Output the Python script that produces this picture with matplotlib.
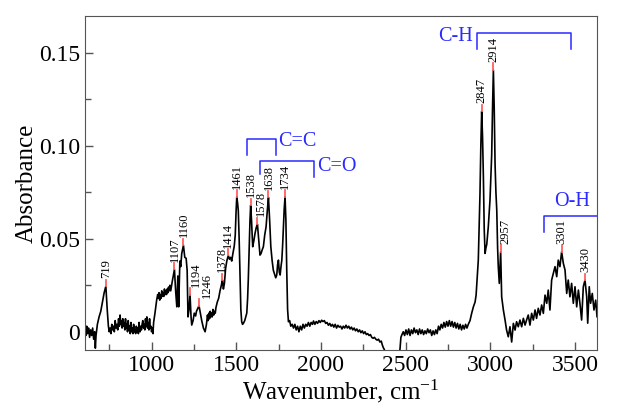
import numpy as np
import matplotlib.pyplot as plt
from matplotlib.ticker import MultipleLocator, FuncFormatter

plt.rcParams['font.family'] = 'Liberation Serif'
plt.rcParams['mathtext.fontset'] = 'custom'
plt.rcParams['mathtext.rm'] = 'Liberation Serif'
plt.rcParams['mathtext.it'] = 'Liberation Serif:italic'

# spectrum (x in axis units, cm-1)
wavenumber = [
    607, 612, 617, 622, 628, 634, 640, 646, 652, 658, 664, 668, 672, 680, 690, 700, 710, 720, 730, 738,
    745, 750, 755, 760, 765, 770, 775, 780, 785, 790, 795, 800, 805, 810, 814, 818, 822, 826, 830, 834,
    838, 842, 846, 850, 854, 858, 862, 866, 870, 874, 878, 882, 886, 890, 894, 898, 902, 906, 910, 914,
    918, 922, 926, 929, 932, 936, 940, 944, 948, 952, 956, 960, 964, 968, 972, 976, 980, 984, 988, 992,
    996, 1000, 1004, 1008, 1012, 1020, 1030, 1036, 1040, 1044, 1048, 1052, 1056, 1060, 1064, 1068, 1072, 1076, 1080, 1084,
    1088, 1092, 1096, 1100, 1104, 1108, 1113, 1122, 1135, 1142, 1149, 1155, 1160, 1167, 1172, 1178, 1188, 1196, 1204, 1210,
    1215, 1221, 1227, 1233, 1237, 1245, 1252, 1260, 1265, 1270, 1280, 1288, 1296, 1306, 1316, 1324, 1330, 1334, 1338, 1342,
    1346, 1350, 1354, 1358, 1362, 1367, 1372, 1376, 1380, 1388, 1396, 1404, 1412, 1418, 1424, 1430, 1437, 1444, 1453, 1460,
    1467, 1473, 1480, 1488, 1494, 1499, 1503, 1508, 1512, 1517, 1522, 1527, 1532, 1537, 1542, 1550, 1556, 1562, 1567, 1571,
    1576, 1581, 1585, 1590, 1597, 1604, 1611, 1618, 1625, 1632, 1640, 1646, 1653, 1660, 1668, 1676, 1684, 1690, 1697, 1704,
    1712, 1719, 1726, 1733, 1739, 1744, 1749, 1754, 1759, 1764, 1769, 1774, 1778, 1783, 1788, 1793, 1798, 1803, 1808, 1815,
    1822, 1830, 1838, 1846, 1854, 1862, 1870, 1878, 1886, 1894, 1902, 1910, 1918, 1926, 1934, 1942, 1950, 1956, 1964, 1972,
    1980, 1988, 1996, 2004, 2012, 2020, 2028, 2036, 2044, 2052, 2060, 2068, 2076, 2084, 2092, 2100, 2108, 2116, 2124, 2132,
    2140, 2148, 2156, 2164, 2172, 2180, 2188, 2196, 2204, 2212, 2220, 2228, 2236, 2244, 2252, 2260, 2268, 2276, 2284, 2292,
    2300, 2308, 2316, 2324, 2332, 2340, 2348, 2356, 2362, 2368, 2374, 2382, 2400, 2440, 2460, 2467, 2472, 2477, 2486, 2494,
    2502, 2510, 2518, 2526, 2534, 2542, 2550, 2558, 2566, 2574, 2582, 2590, 2598, 2606, 2614, 2622, 2630, 2638, 2646, 2654,
    2662, 2670, 2678, 2686, 2694, 2702, 2710, 2718, 2726, 2734, 2742, 2750, 2758, 2766, 2774, 2782, 2790, 2798, 2806, 2814,
    2822, 2830, 2838, 2846, 2854, 2862, 2870, 2880, 2890, 2900, 2910, 2916, 2922, 2929, 2935, 2939, 2944, 2949, 2954, 2959,
    2964, 2969, 2974, 2979, 2988, 2998, 3008, 3013, 3018, 3023, 3028, 3033, 3038, 3043, 3047, 3053, 3057, 3061, 3067, 3077,
    3087, 3096, 3106, 3116, 3126, 3136, 3146, 3155, 3165, 3175, 3185, 3195, 3205, 3214, 3224, 3234, 3244, 3254, 3264, 3273,
    3283, 3293, 3303, 3313, 3323, 3333, 3342, 3352, 3362, 3372, 3382, 3392, 3401, 3411, 3421, 3431, 3441, 3451, 3460, 3470,
    3480, 3490, 3500, 3510, 3520, 3529, 3539, 3549, 3559, 3569, 3575, 3584, 3592, 3602, 3612, 3622, 3630,
]
absorbance = [
    0.001, -0.002, 0.003, -0.001, 0.002, -0.003, 0.001, -0.002, 0.002, -0.004, 0.000, -0.0088, -0.002, 0.004, 0.008, 0.011, 0.016, 0.021, 0.0245, 0.012,
    0.003, 0.000, 0.002, -0.001, 0.004, 0.001, 0.003, 0.000, 0.006, 0.002, 0.004, 0.001, 0.007, 0.003, 0.009, 0.004, 0.006, 0.002, 0.007, 0.003,
    0.005, 0.001, 0.007, 0.002, 0.004, 0.000, 0.006, 0.001, 0.003, -0.001, 0.005, 0.000, 0.002, -0.001, 0.004, 0.000, 0.001, -0.001, 0.003, 0.000,
    0.002, -0.001, 0.005, 0.001, 0.000, 0.003, 0.001, 0.004, 0.006, 0.002, 0.004, 0.001, 0.007, 0.003, 0.008, 0.002, 0.005, 0.001, 0.007, 0.002,
    0.003, 0.000, 0.002, -0.001, 0.005, 0.010, 0.017, 0.020, 0.018, 0.021, 0.017, 0.020, 0.018, 0.022, 0.019, 0.021, 0.019, 0.023, 0.020, 0.022,
    0.020, 0.023, 0.021, 0.024, 0.022, 0.025, 0.022, 0.027, 0.0335, 0.022, 0.0134, 0.030, 0.0134, 0.038, 0.035, 0.042, 0.0465, 0.040, 0.0395, 0.033,
    0.008, 0.012, 0.020, 0.008, 0.0036, 0.006, 0.010, 0.0085, 0.011, 0.012, 0.014, 0.010, 0.006, 0.002, 0.000, 0.004, 0.009, 0.006, 0.010, 0.007,
    0.011, 0.008, 0.010, 0.008, 0.012, 0.009, 0.011, 0.010, 0.013, 0.016, 0.018, 0.022, 0.025, 0.0278, 0.023, 0.026, 0.034, 0.038, 0.041, 0.039,
    0.040, 0.038, 0.042, 0.046, 0.052, 0.065, 0.0726, 0.069, 0.065, 0.050, 0.030, 0.012, 0.0054, 0.004, 0.0045, 0.006, 0.008, 0.010, 0.018, 0.028,
    0.045, 0.060, 0.068, 0.060, 0.0457, 0.049, 0.053, 0.056, 0.0578, 0.050, 0.0412, 0.042, 0.044, 0.0457, 0.052, 0.0564, 0.066, 0.0722, 0.060, 0.0457,
    0.038, 0.033, 0.031, 0.029, 0.0305, 0.036, 0.0385, 0.032, 0.0305, 0.035, 0.0385, 0.047, 0.056, 0.066, 0.0726, 0.060, 0.033, 0.012, 0.0054, 0.006,
    0.003, 0.004, 0.002, 0.004, 0.001, 0.003, 0.000, 0.003, 0.001, 0.004, 0.002, 0.004, 0.003, 0.005, 0.003, 0.005, 0.004, 0.0058, 0.004, 0.0055,
    0.0045, 0.006, 0.005, 0.0062, 0.0055, 0.006, 0.0045, 0.005, 0.0035, 0.0045, 0.003, 0.004, 0.0025, 0.004, 0.002, 0.0035, 0.0025, 0.003, 0.0015, 0.003,
    0.002, 0.0035, 0.002, 0.003, 0.0015, 0.0025, 0.001, 0.002, 0.0005, 0.0015, 0.000, 0.001, -0.0005, 0.0005, -0.001, 0.000, -0.0015, -0.001, -0.002, -0.0015,
    -0.003, -0.0035, -0.003, -0.004, -0.0045, -0.004, -0.0055, -0.005, -0.007, -0.0085, -0.0095, -0.014, -0.030, -0.030, -0.014, -0.009, -0.003, -0.0018, 0.000, -0.002,
    0.001, -0.0015, 0.0015, -0.002, 0.001, -0.001, 0.002, -0.0005, 0.001, -0.0015, 0.0015, -0.001, 0.001, -0.0015, 0.0005, -0.001, 0.0015, -0.0005, 0.001, -0.002,
    0.0005, -0.0015, 0.001, -0.001, 0.003, 0.001, 0.004, 0.002, 0.005, 0.0025, 0.0055, 0.003, 0.006, 0.003, 0.0055, 0.0025, 0.005, 0.002, 0.0045, 0.0015,
    0.004, 0.001, 0.0035, 0.0015, 0.004, 0.002, 0.004, 0.006, 0.010, 0.0134, 0.016, 0.0197, 0.028, 0.0385, 0.060, 0.0744, 0.100, 0.1185, 0.105, 0.0833,
    0.055, 0.0421, 0.045, 0.047, 0.0564, 0.0708, 0.095, 0.120, 0.1407, 0.120, 0.090, 0.075, 0.0654, 0.045, 0.035, 0.026, 0.034, 0.043, 0.0188, 0.0117,
    0.0063, 0.0009, -0.0027, 0.0027, -0.0055, 0.0045, 0.0009, 0.0054, 0.0027, 0.0063, 0.0027, 0.0072, 0.0036, 0.0063, 0.009, 0.0036, 0.0099, 0.0063, 0.0117, 0.0072,
    0.0126, 0.009, 0.0144, 0.0099, 0.0197, 0.0153, 0.0224, 0.0117, 0.0278, 0.0314, 0.035, 0.0296, 0.0385, 0.035, 0.043, 0.0368, 0.0332, 0.0206, 0.0278, 0.0188,
    0.026, 0.0153, 0.0242, 0.0134, 0.0224, 0.0153, 0.0063, 0.0242, 0.0278, 0.0188, 0.0046, 0.0242, 0.0153, 0.0206, 0.0117, 0.017, 0.0081,
]

# labelled peaks: position on the axis and the printed label
peak_pos = [730, 1135, 1188, 1227, 1280, 1418, 1453, 1503, 1585, 1625, 1690, 1788, 2949, 3018, 3061, 3421, 3559]
peak_labels = ['719', '1107', '1160', '1194', '1246', '1378', '1414', '1461', '1538', '1578',
               '1638', '1734', '2847', '2914', '2957', '3301', '3430']
# labels nudged sideways to clear their neighbours
label_shift = {'1194': 32, '1246': 48, '1578': 18, '2957': 28}

wn = np.array(wavenumber)
ab = np.array(absorbance)

fig = plt.figure(figsize=(6.27, 4.11), dpi=100)
ax = fig.add_axes([0.1356, 0.1484, 0.8166, 0.8127])

ax.plot(wn, ab, color='black', lw=1.2)

for x, lab in zip(peak_pos, peak_labels):
    i = np.argmin(np.abs(wn - x))
    yp = ab[i]
    ax.plot([wn[i], wn[i]], [yp, yp + 0.0035], color='#ff6060', lw=1.3)
    ax.text(wn[i] + label_shift.get(lab, 0), yp + 0.0042, lab, rotation=90,
            ha='center', va='bottom', fontsize=9)

blue = '#2a2aff'
# C-H
ax.plot([2920, 2920, 3475, 3475], [0.1518, 0.1604, 0.1604, 0.1518], color=blue, lw=1.1)
ax.text(2898, 0.1585, 'C-H', color=blue, fontsize=14.5, ha='right', va='center')
# O-H
ax.plot([3319, 3319, 3630], [0.0534, 0.0622, 0.0622], color=blue, lw=1.1, clip_on=False)
ax.text(3482, 0.0700, 'O-H', color=blue, fontsize=14.5, ha='center', va='center')
# C=C
ax.plot([1566, 1566, 1733, 1733], [0.0949, 0.1036, 0.1036, 0.0949], color=blue, lw=1.1)
ax.text(1750, 0.1025, 'C=C', color=blue, fontsize=14.5, ha='left', va='center')
# C=O
ax.plot([1640, 1640, 1959, 1959], [0.0848, 0.0918, 0.0918, 0.0830], color=blue, lw=1.1)
ax.text(1978, 0.0890, 'C=O', color=blue, fontsize=14.5, ha='left', va='center')

ax.set_xlim(607, 3630)
ax.set_ylim(-0.0098, 0.1697)
ax.xaxis.set_major_locator(MultipleLocator(500))
ax.xaxis.set_minor_locator(MultipleLocator(250))
ax.yaxis.set_major_locator(MultipleLocator(0.05))
ax.yaxis.set_minor_locator(MultipleLocator(0.025))
ax.yaxis.set_major_formatter(FuncFormatter(lambda v, p: '0' if abs(v) < 1e-9 else f'{v:.2f}'))
ax.tick_params(which='both', direction='in', top=False, right=False, colors='#555555',
               labelcolor='black', labelsize=17)
ax.tick_params(which='major', length=6, width=1)
ax.tick_params(which='minor', length=4, width=1)
for s in ax.spines.values():
    s.set_color('#555555')

ax.set_xlabel(r'Wavenumber, cm$^{-1}$', fontsize=18, labelpad=1)
ax.set_ylabel('Absorbance', fontsize=18, labelpad=1)

fig.savefig('out.png', dpi=100)
